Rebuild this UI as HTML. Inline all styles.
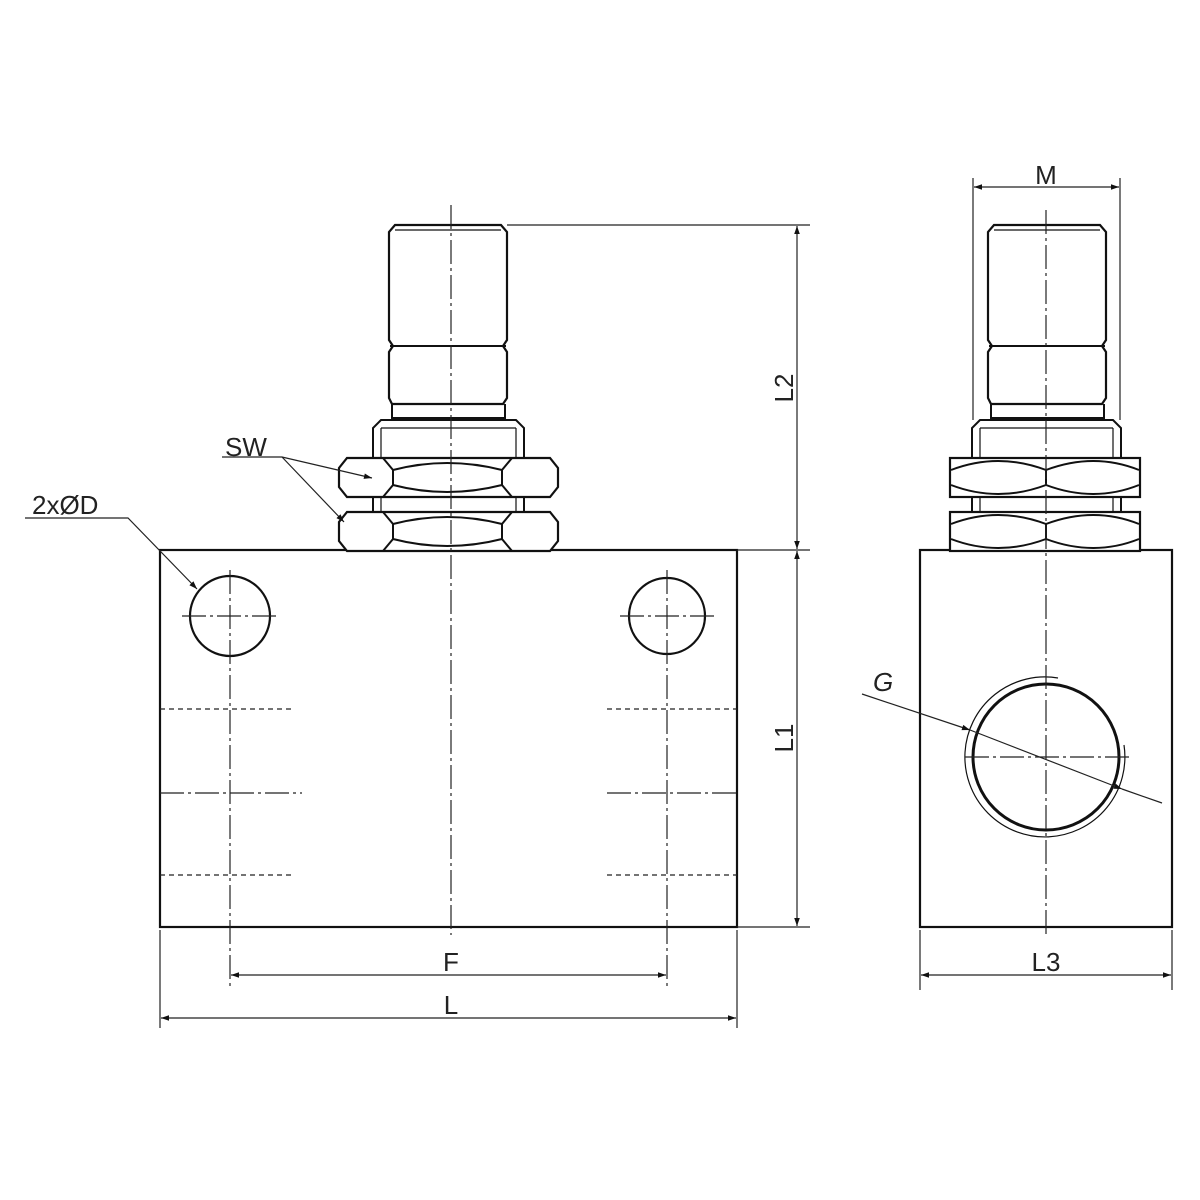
<!DOCTYPE html>
<html><head><style>body{margin:0;background:#fff}svg{display:block}text{font-family:"Liberation Sans",sans-serif;fill:#222}</style></head><body>
<svg width="1200" height="1200" viewBox="0 0 1200 1200" xmlns="http://www.w3.org/2000/svg">
<defs>
<marker id="a" viewBox="0 0 10 10" refX="10" refY="5" markerWidth="18" markerHeight="8" orient="auto-start-reverse" markerUnits="userSpaceOnUse"><path d="M0,1.5L10,5L0,8.5Z" fill="#111"/></marker>
<g id="nut">
<path d="M347,0 L550,0 L558,10 L558,29 L550,39 L347,39 L339,29 L339,10 Z" fill="#fff" stroke="#111" stroke-width="2.2"/>
<path d="M383,0 L393,12 L393,27 L383,39 M512,0 L502,12 L502,27 L512,39 M393,12 Q447,-2 502,12 M393,27 Q447,41 502,27" fill="none" stroke="#111" stroke-width="2"/>
</g>
<g id="nut2">
<rect x="950" y="0" width="190" height="39" fill="#fff" stroke="#111" stroke-width="2.2"/>
<path d="M951,12 Q998,-6 1046,12 Q1094,-6 1139,12 M951,27 Q998,45 1046,27 Q1094,45 1139,27 M1046,12 V27" fill="none" stroke="#111" stroke-width="2"/>
</g>
</defs>
<g fill="none" stroke="#111" stroke-width="2.2">
<rect x="160" y="550" width="577" height="377"/>
<circle cx="230" cy="616" r="40"/>
<circle cx="667" cy="616" r="38"/>
<path d="M395,225 L501,225 L507,232 L507,340 L503,346 L507,352 L507,398 L503,404 L392,404 L389,398 L389,352 L393,346 L389,340 L389,232 Z"/>
<path d="M390,346 L506,346 M392,404 L392,418 L505,418 L505,404 M373,458 L373,428 L381,420 L516,420 L524,428 L524,458 M373,497 L373,513 M524,497 L524,513" stroke-width="2"/>
<path d="M395,230 L501,230 M381,428 L516,428 M381,428 L381,458 M516,428 L516,458 M381,497 L381,513 M516,497 L516,513" stroke-width="1.2"/>
<rect x="920" y="550" width="252" height="377"/>
<circle cx="1046" cy="757" r="73" stroke-width="3"/>
<path d="M1058,678 A80,80 0 1 0 1124,745" stroke-width="1.2"/>
<path d="M994,225 L1100,225 L1106,232 L1106,340 L1102,346 L1106,352 L1106,398 L1102,404 L991,404 L988,398 L988,352 L992,346 L988,340 L988,232 Z"/>
<path d="M989,346 L1105,346 M991,404 L991,418 L1104,418 L1104,404 M972,458 L972,428 L980,420 L1113,420 L1121,428 L1121,458 M972,497 L972,513 M1121,497 L1121,513" stroke-width="2"/>
<path d="M994,230 L1100,230 M980,428 L1113,428 M980,428 L980,458 M1113,428 L1113,458 M980,497 L980,513 M1113,497 L1113,513" stroke-width="1.2"/>
</g>
<use href="#nut" transform="translate(0,458)"/>
<use href="#nut" transform="translate(0,512)"/>
<use href="#nut2" transform="translate(0,458)"/>
<use href="#nut2" transform="translate(0,512)"/>
<g fill="none" stroke="#222" stroke-width="1.2">
<path d="M160,709H292M160,875H292M607,709H737M607,875H737" stroke-dasharray="5,4"/>
<path d="M451,205V935M160,793H302M607,793H737M230,570V990M667,570V990M182,616H278M620,616H714M1046,210V935M965,757H1130" stroke-dasharray="24,4,3,4"/>
<path d="M507,225H810M737,550H810M737,927H810M160,930V1028M737,930V1028M920,930V990M1172,930V990M973,178V420M1120,178V420"/>
<path d="M797,226V549" marker-start="url(#a)" marker-end="url(#a)"/>
<path d="M797,551V926" marker-start="url(#a)" marker-end="url(#a)"/>
<path d="M231,975H666" marker-start="url(#a)" marker-end="url(#a)"/>
<path d="M161,1018H736" marker-start="url(#a)" marker-end="url(#a)"/>
<path d="M921,975H1171" marker-start="url(#a)" marker-end="url(#a)"/>
<path d="M974,187H1119" marker-start="url(#a)" marker-end="url(#a)"/>
<path d="M222,457H282L372,478" marker-end="url(#a)"/>
<path d="M282,457L344,522" marker-end="url(#a)"/>
<path d="M25,518H128L197,589" marker-end="url(#a)"/>
<path d="M862,694L970,730" marker-end="url(#a)"/>
<path d="M1162,803L1122,789"/>
<path d="M970,730L1122,789" marker-end="url(#a)"/>
</g>
<g font-size="26">
<text x="451" y="971" text-anchor="middle">F</text>
<text x="451" y="1014" text-anchor="middle">L</text>
<text x="1046" y="971" text-anchor="middle">L3</text>
<text x="1046" y="184" text-anchor="middle">M</text>
<text x="225" y="456">SW</text>
<text x="32" y="514">2xØD</text>
<text x="873" y="691" font-style="italic">G</text>
<text transform="translate(793,388) rotate(-90)" text-anchor="middle">L2</text>
<text transform="translate(793,738) rotate(-90)" text-anchor="middle">L1</text>
</g>
</svg>
</body></html>
